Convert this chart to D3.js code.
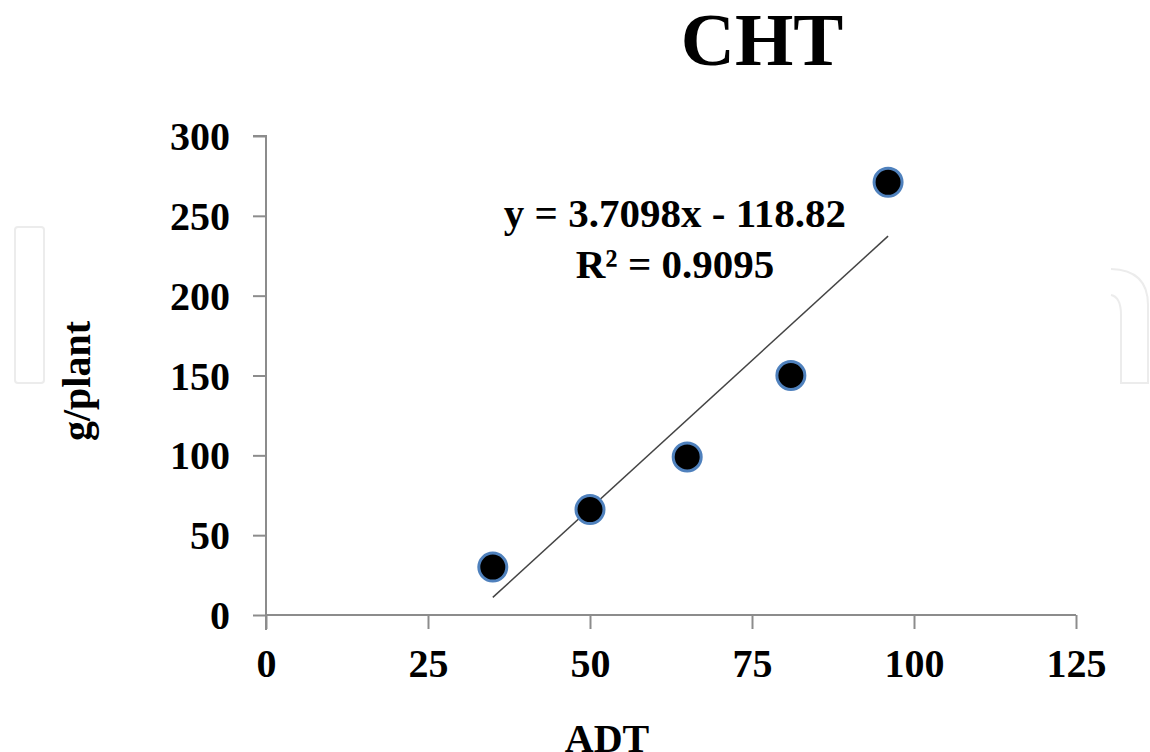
<!DOCTYPE html>
<html><head><meta charset="utf-8">
<script src="https://cdn.jsdelivr.net/npm/d3@7"></script>
<style>body{margin:0;background:#fff}text{font-family:"Liberation Serif","Times New Roman",serif;font-weight:bold}</style>
</head><body>
<svg id="chart" width="1150" height="752"></svg>
<script>
const xValues = [35, 50, 65, 81, 96];
const yValues = [30, 66, 99, 150, 271];
const xTicks = [0, 25, 50, 75, 100, 125];
const yTicks = [0, 50, 100, 150, 200, 250, 300];
const slope = 3.7098, intercept = -118.82;
const title = "CHT", xTitle = "ADT", yTitle = "g/plant";
const eqLines = ["y = 3.7098x - 118.82", "R\u00B2 = 0.9095"];

const svg = d3.select("#chart");
// faint watermark outlines
svg.append("rect").attr("x",15).attr("y",227).attr("width",29).attr("height",156).attr("rx",3)
  .attr("fill","none").attr("stroke","#ececec").attr("stroke-width",2);
svg.append("path").attr("d","M1111,269 Q1148,270 1148,305 L1148,383 L1121,383 L1121,315 Q1121,297 1111,295")
  .attr("fill","none").attr("stroke","#ececec").attr("stroke-width",2);

const x = d3.scaleLinear().domain([0,125]).range([266,1076]);
const y = d3.scaleLinear().domain([0,300]).range([615,136]);

const axisColor = "#8c8c8c";
const gx = svg.append("g").attr("transform","translate(0,615)")
  .call(d3.axisBottom(x).tickValues(xTicks).tickSize(14).tickPadding(20).tickFormat(d3.format("d")));
const gy = svg.append("g").attr("transform","translate(266,0)")
  .call(d3.axisLeft(y).tickValues(yTicks).tickSize(13).tickPadding(23).tickFormat(d3.format("d")));
[gx,gy].forEach(g=>{
  g.select(".domain").attr("stroke",axisColor).attr("stroke-width",2);
  g.selectAll(".tick line").attr("stroke",axisColor).attr("stroke-width",2);
  g.selectAll(".tick text").attr("fill","#000").style("font-size","40px").style("font-family",'"Liberation Serif",serif').style("font-weight","bold");
});
gx.select(".domain").attr("d","M266,0H1076");
gy.select(".domain").attr("d","M0,615V136H-13M0,615V630");
gy.selectAll(".tick text").attr("dy","0.34em");
gx.selectAll(".tick text").attr("dy","0.71em");

// trendline
const x0 = d3.min(xValues), x1 = d3.max(xValues);
svg.append("line").attr("x1",x(x0)).attr("y1",y(slope*x0+intercept))
  .attr("x2",x(x1)).attr("y2",y(slope*x1+intercept))
  .attr("stroke","#444").attr("stroke-width",1.5);

// points
svg.append("g").selectAll("circle").data(xValues.map((v,i)=>[v,yValues[i]])).join("circle")
  .attr("cx",d=>x(d[0])).attr("cy",d=>y(d[1])).attr("r",14)
  .attr("fill","#000").attr("stroke","#4f81bd").attr("stroke-width",3);

// equation
svg.append("g").selectAll("text").data(eqLines).join("text")
  .attr("x",675).attr("y",(d,i)=>227+i*51).attr("text-anchor","middle")
  .style("font-size","41px").text(d=>d);

// title
svg.append("text").attr("x",762).attr("y",65).attr("text-anchor","middle")
  .style("font-size","75px").text(title);
// axis titles
svg.append("text").attr("x",607).attr("y",752).attr("text-anchor","middle")
  .style("font-size","40px").text(xTitle);
svg.append("text").attr("transform","translate(90,381) rotate(-90)").attr("text-anchor","middle")
  .style("font-size","40px").text(yTitle);
</script>
</body></html>
